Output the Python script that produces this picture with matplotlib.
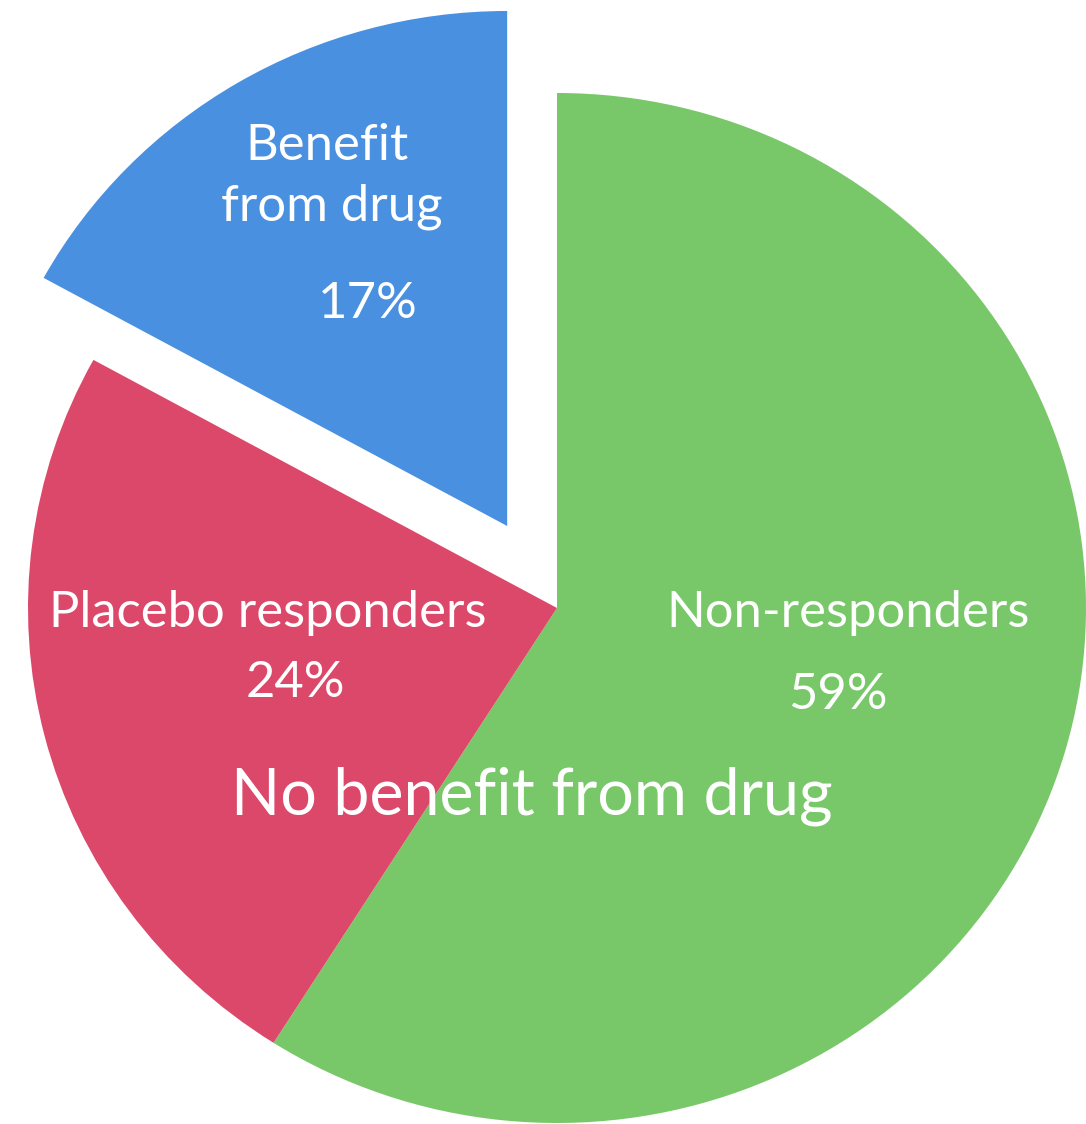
#!/usr/bin/env python3
"""
Pie chart: response to drug vs placebo
"""
import matplotlib
matplotlib.use('Agg')
import matplotlib.pyplot as plt

# data
categorias = ['Non-responders', 'Placebo responders', 'Benefit from drug']
valores = [59, 24, 17]
cores = ['#78C869', '#DC486A', '#4A90E0']
explode = [0, 0, 0.185]

W, H = 1086, 1124
fig = plt.figure(figsize=(W / 100, H / 100), dpi=100)
ax = fig.add_axes([0, 0, 1, 1])

ax.pie(valores, colors=cores, explode=explode, startangle=90,
       counterclock=False, radius=1.0,
       wedgeprops=dict(linewidth=0))

# pie centre / radii in pixels (image slightly stretched horizontally)
cx, cy_top = 557, 608
rx, ry = 529, 515
cy = H - cy_top
ax.set_aspect('auto')
ax.set_xlim(-cx / rx, (W - cx) / rx)
ax.set_ylim(-cy / ry, (H - cy) / ry)
ax.axis('off')

fonte = 'Lato'

def rotulo(texto, x, y_base, tamanho):
    fig.text(x / W, 1 - y_base / H, texto, color='white', fontsize=tamanho,
             family=fonte, ha='center', va='baseline')

rotulo('Benefit', 327, 160, 36.5)
rotulo('from drug', 332, 220, 36.5)
rotulo('17%', 368, 318, 36.5)
rotulo('Placebo responders', 268, 627, 36.5)
rotulo('24%', 295, 697, 36.5)
rotulo('Non-responders', 848, 627, 36.5)
rotulo('59%', 838, 709, 36.5)
rotulo('No benefit from drug', 532, 815, 46.5)

fig.savefig('out.png', dpi=100)
plt.close(fig)
